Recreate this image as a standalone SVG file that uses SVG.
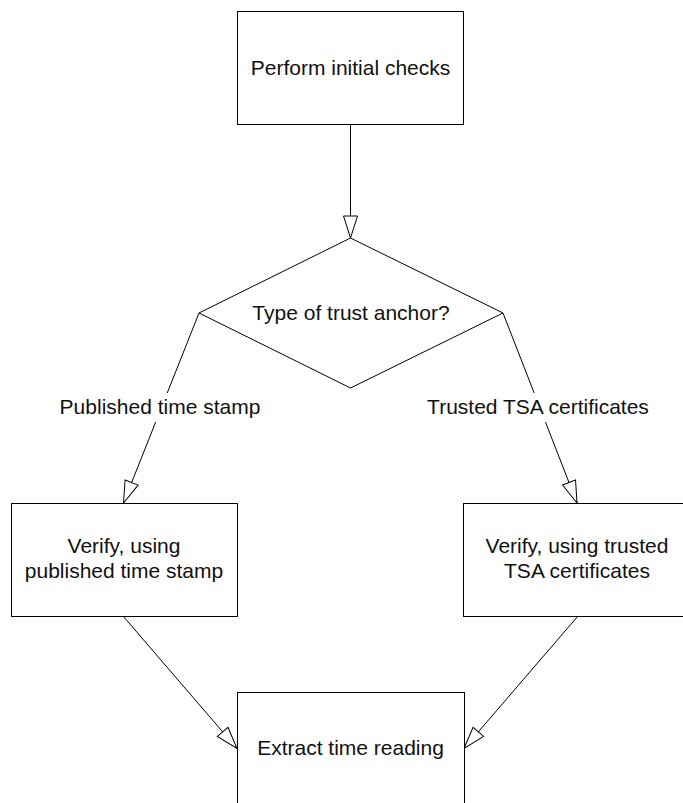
<svg xmlns="http://www.w3.org/2000/svg" width="683" height="803" viewBox="0 0 683 803">
  <style>
    .box { fill: #ffffff; stroke: #000000; stroke-width: 1; }
    .edge { fill: none; stroke: #000000; stroke-width: 1; marker-end: url(#arr); }
    .txt { font-family: "Liberation Sans", Arial, sans-serif; font-size: 21px; fill: #111111; text-anchor: middle; }
    .lblbg { fill: #ffffff; stroke: none; }
  </style>
  <defs>
    <marker id="arr" markerWidth="24" markerHeight="16" refX="23" refY="8" orient="auto" markerUnits="userSpaceOnUse" overflow="visible">
      <path d="M1,1 L23,8 L1,15 Z" fill="#ffffff" stroke="#000000" stroke-width="1"/>
    </marker>
  </defs>
  <rect width="683" height="803" fill="#ffffff"/>

  <g id="connectors">
    <line class="edge" x1="350.5" y1="124" x2="350.5" y2="238"/>
    <line class="edge" x1="199" y1="313" x2="123.5" y2="503"/>
    <line class="edge" x1="503" y1="313" x2="577" y2="503"/>
    <line class="edge" x1="123" y1="616" x2="237" y2="748.5"/>
    <line class="edge" x1="578" y1="616" x2="464" y2="748.5"/>
    <g id="label-published">
      <rect class="lblbg" x="57" y="393" width="206" height="29"/>
      <text class="txt" x="160" y="414">Published time stamp</text>
    </g>
    <g id="label-trusted">
      <rect class="lblbg" x="423" y="393" width="231" height="29"/>
      <text class="txt" x="538" y="414">Trusted TSA certificates</text>
    </g>
  </g>

  <g id="initial-checks">
    <rect class="box" x="237.5" y="11.5" width="226" height="113"/>
    <text class="txt" x="350.5" y="75">Perform initial checks</text>
  </g>

  <g id="trust-anchor">
    <polygon class="box" points="350.5,238 503,313 350.5,388 199,313"/>
    <text class="txt" x="351" y="320">Type of trust anchor?</text>
  </g>

  <g id="verify-published">
    <rect class="box" x="11.5" y="503.5" width="226" height="113"/>
    <text class="txt" x="124" y="553">Verify, using</text>
    <text class="txt" x="124" y="578">published time stamp</text>
  </g>

  <g id="verify-tsa">
    <rect class="box" x="463.5" y="503.5" width="228" height="113"/>
    <text class="txt" x="577" y="553">Verify, using trusted</text>
    <text class="txt" x="577" y="578">TSA certificates</text>
  </g>

  <g id="extract-time">
    <rect class="box" x="237.5" y="692.5" width="227" height="113"/>
    <text class="txt" x="350.5" y="755">Extract time reading</text>
  </g>
</svg>
